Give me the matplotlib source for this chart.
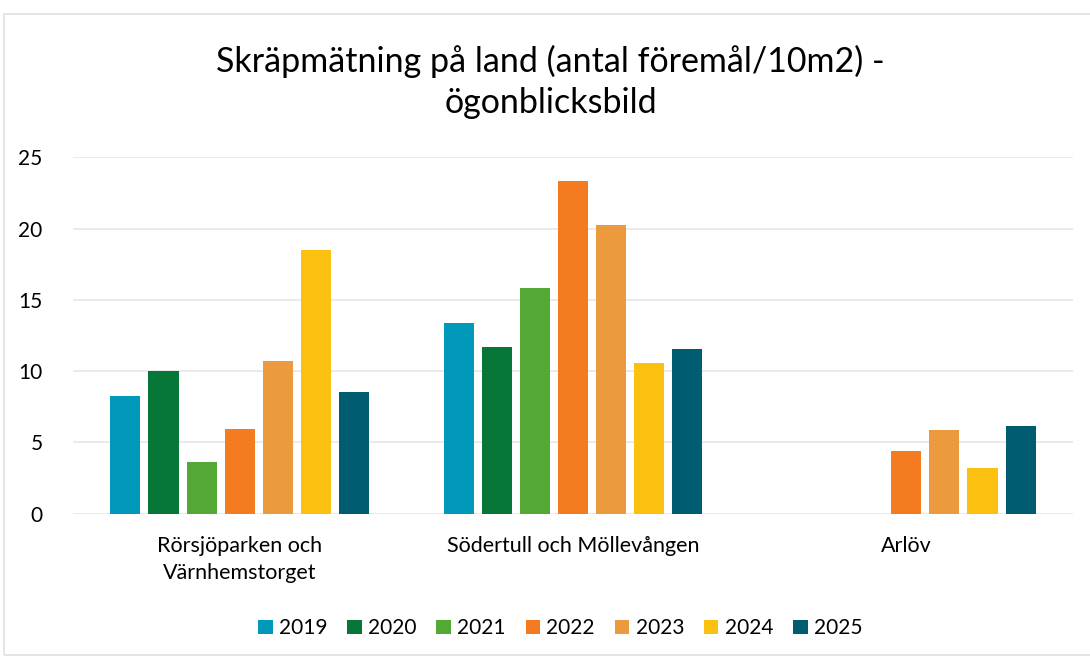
import numpy as np
import matplotlib
matplotlib.use("Agg")
import matplotlib.pyplot as plt
from matplotlib.patches import Rectangle

# Skräpmätning på land
platser = ["Rörsjöparken och\nVärnhemstorget", "Södertull och Möllevången", "Arlöv"]
år = ["2019", "2020", "2021", "2022", "2023", "2024", "2025"]
v2019 = [8.26, 13.38, np.nan]
v2020 = [9.97, 11.68, np.nan]
v2021 = [3.62, 15.82, np.nan]
v2022 = [5.90, 23.31, 4.40]
v2023 = [10.70, 20.27, 5.87]
v2024 = [18.50, 10.53, 3.20]
v2025 = [8.54, 11.52, 6.15]
serier = [v2019, v2020, v2021, v2022, v2023, v2024, v2025]
färger = ["#0099BA", "#077737", "#53A836", "#F47B20", "#EC9A3E", "#FCC010", "#005D71"]

plt.rcParams['font.family'] = ['Lato', 'DejaVu Sans']

fig = plt.figure(figsize=(10.9, 6.57), dpi=100)
ax = fig.add_axes([0.067, 0.2184, 0.9174, 0.5422])

x = np.arange(len(platser))
slot = 0.8 / len(år)
bredd = slot * 0.79
for i, (namn, värden, färg) in enumerate(zip(år, serier, färger)):
    ax.bar(x - 0.4 + slot * (i + 0.5), värden, width=bredd, color=färg,
           label=namn, zorder=3)

ax.set_xlim(-0.5, len(platser) - 0.5)
ax.set_ylim(0, 25)
ax.set_yticks(range(0, 26, 5))
ax.yaxis.grid(True, color="#e6e6e6", linewidth=1.2, zorder=0)
ax.set_axisbelow(True)
for s in ax.spines.values():
    s.set_visible(False)
ax.tick_params(axis='y', length=0, labelsize=15, colors="#000000", pad=22)
ax.tick_params(axis='x', length=0, labelsize=15.5, colors="#000000", pad=16)
ax.set_xticks(x)
ax.set_xticklabels(platser, linespacing=1.45)

fig.text(0.505, 0.906, "Skräpmätning på land (antal föremål/10m2) -",
         ha='center', va='center', fontsize=24.5)
fig.text(0.505, 0.843, "ögonblicksbild", ha='center', va='center', fontsize=24.5)

fig.legend(loc='center', bbox_to_anchor=(0.514, 0.044), ncol=7, frameon=False,
           fontsize=15, handlelength=0.7, handleheight=0.7, handletextpad=0.3,
           columnspacing=0.95)

# ram runt diagramytan
fig.patches.append(Rectangle((0.004, 0.003), 1.2, 0.976, transform=fig.transFigure,
                             fill=False, edgecolor="#e0e0e0", linewidth=1.2))

fig.savefig("out.png", dpi=100)
